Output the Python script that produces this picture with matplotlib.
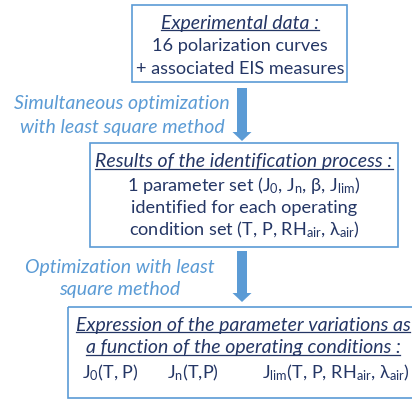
import matplotlib
matplotlib.use('Agg')
import matplotlib.pyplot as plt
from matplotlib.patches import Rectangle, FancyArrow

plt.rcParams['font.family'] = ['Lato', 'DejaVu Sans']
plt.rcParams['mathtext.default'] = 'regular'

navy = '#243665'
blue = '#5B9BD5'

# box contents
box1_title = 'Experimental data :'
box1_lines = ['16 polarization curves', '+ associated EIS measures']
box2_title = 'Results of the identification process :'
box2_lines = ['1 parameter set (J$_0$, J$_n$, β, J$_{lim}$)',
              'identified for each operating',
              'condition set (T, P, RH$_{air}$, λ$_{air}$)']
box3_titles = ['Expression of the parameter variations as',
               'a function of the operating conditions :']
box3_funcs = ['J$_0$(T, P)', 'J$_n$(T,P)', 'J$_{lim}$(T, P, RH$_{air}$, λ$_{air}$)']
step1_label = ['Simultaneous optimization', 'with least square method']
step2_label = ['Optimization with least', 'square method']

fig = plt.figure(figsize=(4.12, 4.01), dpi=100)
ax = fig.add_axes([0, 0, 1, 1])
ax.set_xlim(0, 412)
ax.set_ylim(401, 0)
ax.axis('off')

fs = 13.1   # upright text
fi = 14.0   # italic text
underlined = []

# boxes
ax.add_patch(Rectangle((132, 5), 215, 77, fill=False, ec=blue, lw=1.2))
ax.add_patch(Rectangle((90, 143), 308, 104, fill=False, ec=blue, lw=1.2))
ax.add_patch(Rectangle((68, 307), 360, 91, fill=False, ec=blue, lw=1.2, clip_on=False))

# box 1
t = ax.text(240, 23, box1_title, ha='center', va='center', fontsize=fi, style='italic', color=navy)
underlined.append(t)
for i, s in enumerate(box1_lines):
    ax.text(240, 46 + 23 * i, s, ha='center', va='center', fontsize=fs, color=navy)

# box 2
t = ax.text(244, 162, box2_title, ha='center', va='center', fontsize=fi, style='italic', color=navy)
underlined.append(t)
for i, s in enumerate(box2_lines):
    ax.text(244, 186 + 22 * i, s, ha='center', va='center', fontsize=fs, color=navy)

# box 3
for i, s in enumerate(box3_titles):
    t = ax.text(243, 325 + 23 * i, s, ha='center', va='center', fontsize=fi, style='italic', color=navy)
    underlined.append(t)
for x, s in zip([82, 167, 262], box3_funcs):
    ax.text(x, 373, s, ha='left', va='center', fontsize=fs, color=navy)

# arrows and step labels
ax.add_patch(FancyArrow(242, 88, 0, 53, width=10, head_width=19, head_length=9,
                        length_includes_head=True, color=blue, lw=0))
ax.add_patch(FancyArrow(242, 251, 0, 51, width=10, head_width=19, head_length=9,
                        length_includes_head=True, color=blue, lw=0))
for i, s in enumerate(step1_label):
    ax.text(122, 104 + 23 * i, s, ha='center', va='center', fontsize=fi, style='italic', color=blue)
for i, s in enumerate(step2_label):
    ax.text(120, 267 + 23 * i, s, ha='center', va='center', fontsize=fi, style='italic', color=blue)

# underline the titles
fig.canvas.draw()
r = fig.canvas.get_renderer()
inv = ax.transData.inverted()
for t in underlined:
    bb = t.get_window_extent(r)
    (x0, y0), (x1, y1) = inv.transform([[bb.x0, bb.y0], [bb.x1, bb.y1]])
    ax.plot([x0, x1], [y0 - 2, y0 - 2], color=navy, lw=0.9)

fig.savefig('out.png', dpi=100)
